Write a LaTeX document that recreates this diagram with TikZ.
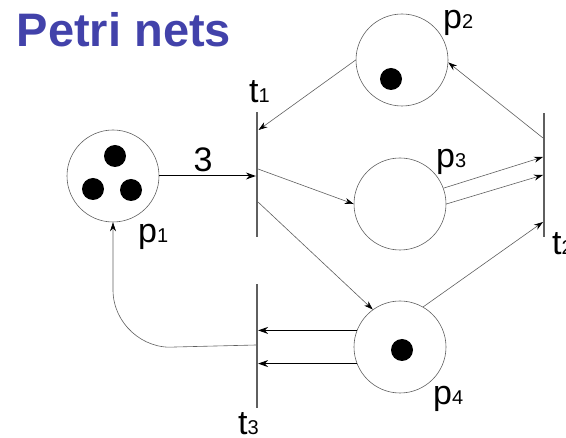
\documentclass[tikz,border=0pt]{standalone}
\usepackage{fontspec}
\setmainfont{Liberation Sans}
\usetikzlibrary{arrows.meta}
\definecolor{titleblue}{RGB}{66,66,170}
\definecolor{linegray}{RGB}{95,95,95}
\newcommand\lbl[2]{{\fontsize{34}{34}\selectfont #1}{\fontsize{20}{20}\selectfont #2}}
\begin{document}
\begin{tikzpicture}[x=1pt,y=-1pt,
  place/.style={circle,draw=linegray,line width=0.6pt,minimum size=92pt,inner sep=0pt},
  token/.style={circle,fill=black,minimum size=22pt,inner sep=0pt},
  trans/.style={rectangle,fill=linegray,minimum width=1.8pt,inner sep=0pt},
  arc/.style={draw=linegray,line width=0.6pt,-{Stealth[length=9pt,width=6pt,black]}},
  thickarc/.style={draw=black,line width=1pt,-{Stealth[length=10pt,width=7pt]}},
  lab/.style={inner sep=0pt,anchor=base west}]
\useasboundingbox (0,0) rectangle (566,438);
% title
\node[lab,text=titleblue,font=\fontsize{47}{47}\selectfont\bfseries] (title) at (16.6,47) {Petri nets};
% places
\node[place] (p1) at (113,176) {};
\node[place] (p2) at (402,60) {};
\node[place] (p3) at (400,204) {};
\node[place] (p4) at (400,347) {};
% tokens
\node[token] (k1) at (115,156) {};
\node[token] (k2) at (93,189) {};
\node[token] (k3) at (131,190) {};
\node[token] (k4) at (391,79) {};
\node[token] (k5) at (402,350) {};
% transitions
\node[trans,minimum height=125pt] (t1) at (257,174.5) {};
\node[trans,minimum height=124pt] (t2) at (544,175) {};
\node[trans,minimum height=124pt] (t3) at (257,346) {};
% attachment points on transitions
\coordinate (t1a) at (258.5,130);
\coordinate (t1b) at (258,169);
\coordinate (t1c) at (258,202);
\coordinate (t2a) at (543,138);
\coordinate (t2b) at (543,157);
\coordinate (t2c) at (543,175);
\coordinate (t2d) at (543,222);
\coordinate (t3a) at (256,345);
% arcs
\draw[thickarc] (p1.east) -- (p1.east -| t1.west) node[midway,above=3pt,inner sep=0pt] {};
\draw[arc] (p2.west) -- (t1a);
\draw[arc] (t1b) -- (p3.west);
\draw[arc] (t1c) -- (p4.126);
\draw[arc] (t2a) -- (p2.-3);
\draw[arc] (p3.20) -- (t2b);
\draw[arc] (p3.east) -- (t2c);
\draw[arc] (p4.60) -- (t2d);
\draw[thickarc] (p4.159) -- (p4.159 -| t3.east);
\draw[thickarc] (p4.201) -- (p4.201 -| t3.east);
\draw[arc] (t3a) -- (175,347) to[out=185,in=-90] (113,290) -- (p1.south);
% labels
\node[lab] (w) at (193.5,172) {\fontsize{34}{34}\selectfont 3};
\node[lab] (l1) at (138,243) {\lbl{p}{1}};
\node[lab] (l2) at (443,29) {\lbl{p}{2}};
\node[lab] (l3) at (436,168) {\lbl{p}{3}};
\node[lab] (l4) at (433,405) {\lbl{p}{4}};
\node[lab] (m1) at (249,103) {\lbl{t}{1}};
\node[lab] (m2) at (552,255) {\lbl{t}{2}};
\node[lab] (m3) at (238,435) {\lbl{t}{3}};
\end{tikzpicture}
\end{document}
